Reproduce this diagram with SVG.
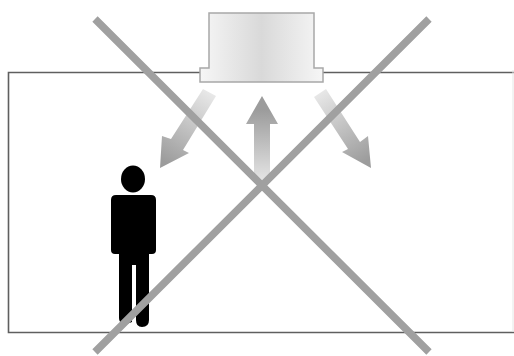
<svg xmlns="http://www.w3.org/2000/svg" width="514" height="356" viewBox="0 0 514 356">
<defs>
<linearGradient id="unit" x1="0" y1="0" x2="1" y2="0"><stop offset="0" stop-color="#f6f6f6"/><stop offset="0.5" stop-color="#d9d9d9"/><stop offset="1" stop-color="#f6f6f6"/></linearGradient>
<linearGradient id="up" gradientUnits="userSpaceOnUse" x1="262" y1="180" x2="262" y2="110"><stop offset="0" stop-color="#e4e4e4"/><stop offset="1" stop-color="#9c9c9c"/></linearGradient>
<linearGradient id="dl" gradientUnits="userSpaceOnUse" x1="210" y1="93" x2="165" y2="162"><stop offset="0" stop-color="#e8e8e8"/><stop offset="1" stop-color="#9c9c9c"/></linearGradient>
<linearGradient id="dr" gradientUnits="userSpaceOnUse" x1="320" y1="92" x2="365" y2="162"><stop offset="0" stop-color="#e8e8e8"/><stop offset="1" stop-color="#9c9c9c"/></linearGradient>
</defs>
<style>.x{stroke:#a0a0a0;stroke-width:7.5;fill:none}.u{stroke:#a8a8a8;stroke-width:1.5;fill:url(#unit)}</style>
<rect width="514" height="356" fill="#fff"/>
<path id="room" d="M514 72.5H8.5V332.5H514" fill="#fff" stroke="#5f5f5f" stroke-width="1.6"/>
<path d="M513 70V332" fill="none" stroke="#e6e6e6"/>
<g id="unit-node"><path class="u" d="M209 68V13H314V68H323V82H200V68Z"/></g>
<g id="person" fill="#000">
<ellipse cx="133" cy="179" rx="12" ry="13.5"/>
<path d="M116 195H151Q156 195 156 200V250Q156 254 152 254H149V320Q149 327 142 327Q136 327 136 320V265H132V322L124 325Q119 323 119 318V254H115Q111 254 111 250V200Q111 195 116 195Z"/>
</g>
<g id="connectors">
<path fill="url(#dl)" d="M203 89L216 96L183 150L189 153L160 168L162 136L171 139Z"/>
<path fill="url(#up)" d="M254 180V124H246L262 96L278 124H270V180Z"/>
<path fill="url(#dr)" d="M314 97L326 89L360 142L368 136L371 168L342 152L348 149Z"/>
<path class="x" d="M95 19L429 352M429 19L95 352"/>
</g>
</svg>
